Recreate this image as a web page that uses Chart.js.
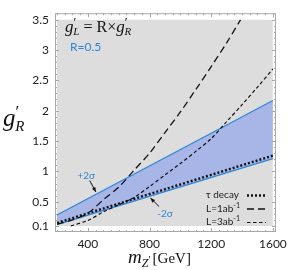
<!DOCTYPE html>
<html>
<head>
<meta charset="utf-8">
<script src="https://cdn.jsdelivr.net/npm/chart.js@4"></script>
<style>
  html, body { margin: 0; padding: 0; background: #fff; }
</style>
</head>
<body>
<canvas id="canvas" width="292" height="270"></canvas>
<script>
// values
const bandMass = [200, 1600];
const plus2Sigma = [0.28, 2.17];
const minus2Sigma = [0.12, 1.21];
const tauMass = [200, 1600];
const tauDecay = [0.15, 1.26];
const lumi1Mass = [200, 300, 400, 500, 600, 700, 800, 900, 1000, 1100, 1200, 1300, 1390];
const lumi1 = [0.13, 0.2, 0.31, 0.53, 0.74, 1.02, 1.3, 1.64, 1.98, 2.35, 2.73, 3.12, 3.5];
const lumi3Mass = [290, 400, 500, 600, 700, 800, 900, 1000, 1100, 1200, 1300, 1400, 1500, 1600];
const lumi3 = [0.1, 0.19, 0.33, 0.45, 0.57, 0.75, 0.94, 1.13, 1.33, 1.54, 1.82, 2.1, 2.39, 2.69];
const regionMass = [200, 1600];
const regionTop = [3.5, 3.5];
const xTicks = [400, 800, 1200, 1600];
const yTicks = [0.1, 0.5, 1, 1.5, 2, 2.5, 3, 3.5];

const BLUE = "#2f86d6";
const SERIF = '"Liberation Serif", "DejaVu Serif", serif';
const SANS = 'Lato, "Open Sans", sans-serif';

function pts(xs, ys) {
  return xs.map((x, i) => ({ x: x, y: ys[i] }));
}

// draws a run of text pieces left to right: [text, font, dy, extra gap]
function drawRun(ctx, x, y, pieces, color) {
  ctx.fillStyle = color;
  ctx.textAlign = "left";
  ctx.textBaseline = "alphabetic";
  pieces.forEach((p) => {
    ctx.font = p[1];
    ctx.fillText(p[0], x, y + (p[2] || 0));
    x += ctx.measureText(p[0]).width + (p[3] || 0);
  });
}

function arrow(ctx, x1, y1, x2, y2) {
  ctx.save();
  ctx.strokeStyle = "#111";
  ctx.fillStyle = "#111";
  ctx.lineWidth = 1;
  ctx.beginPath();
  ctx.moveTo(x1, y1);
  ctx.lineTo(x2, y2);
  ctx.stroke();
  const a = Math.atan2(y2 - y1, x2 - x1);
  ctx.beginPath();
  ctx.moveTo(x2, y2);
  ctx.lineTo(x2 - 5 * Math.cos(a - 0.4), y2 - 5 * Math.sin(a - 0.4));
  ctx.lineTo(x2 - 5 * Math.cos(a + 0.4), y2 - 5 * Math.sin(a + 0.4));
  ctx.closePath();
  ctx.fill();
  ctx.restore();
}

const frame = {
  id: "frame",
  afterDraw(chart) {
    const ctx = chart.ctx;
    const a = chart.chartArea;
    const xs = chart.scales.x;
    const ys = chart.scales.y;
    ctx.save();
    ctx.strokeStyle = "#a8a8a8";
    ctx.lineWidth = 1;
    ctx.strokeRect(a.left + 0.5, a.top + 0.5, a.right - a.left - 1, a.bottom - a.top - 1);
    ctx.beginPath();
    for (let m = 200; m <= 1600; m += 50) {
      const px = Math.round(xs.getPixelForValue(m)) + 0.5;
      const len = m % 400 === 0 ? 4 : 2;
      ctx.moveTo(px, a.bottom);
      ctx.lineTo(px, a.bottom - len);
      ctx.moveTo(px, a.top);
      ctx.lineTo(px, a.top + len);
    }
    for (let k = 1; k <= 35; k++) {
      const py = Math.round(ys.getPixelForValue(k / 10)) + 0.5;
      const len = k % 5 === 0 || k === 1 ? 4 : 2;
      ctx.moveTo(a.left, py);
      ctx.lineTo(a.left + len, py);
      ctx.moveTo(a.right, py);
      ctx.lineTo(a.right - len, py);
    }
    ctx.stroke();
    ctx.restore();

    // title formula
    drawRun(ctx, 65, 32, [
      ["g", "italic 17px " + SERIF],
      ["′", "13px " + SERIF, -6, -3],
      ["L", "italic 11px " + SERIF, 3],
      [" = R×", "16px " + SERIF],
      ["g", "italic 17px " + SERIF],
      ["′", "13px " + SERIF, -6, -3],
      ["R", "italic 11px " + SERIF, 3]
    ], "#111");
    drawRun(ctx, 70, 51, [["R=0.5", "12px " + SANS]], BLUE);

    // axis titles
    drawRun(ctx, 3, 126, [
      ["g", "italic 25px " + SERIF],
      ["′", "17px " + SERIF, -9, -4],
      ["R", "italic 15px " + SERIF, 5]
    ], "#111");
    drawRun(ctx, 128, 263, [
      ["m", "italic 19px " + SERIF],
      ["Z", "italic 12px " + SERIF, 4],
      ["′", "10px " + SERIF, 0, 2],
      ["[GeV]", "15px " + SERIF]
    ], "#111");

    // sigma labels
    ctx.font = "10px " + SANS;
    ctx.fillStyle = BLUE;
    ctx.textAlign = "center";
    ctx.textBaseline = "middle";
    ctx.fillText("+2σ", xs.getPixelForValue(390), ys.getPixelForValue(0.93));
    ctx.fillText("-2σ", xs.getPixelForValue(900), ys.getPixelForValue(0.3));
    arrow(ctx, xs.getPixelForValue(412), ys.getPixelForValue(0.85), xs.getPixelForValue(452), ys.getPixelForValue(0.66));
    arrow(ctx, xs.getPixelForValue(862), ys.getPixelForValue(0.42), xs.getPixelForValue(806), ys.getPixelForValue(0.56));

    // legend
    const rows = [
      ["τ decay", [2, 2], 2.4],
      ["L=1ab", [7, 4], 1.3],
      ["L=3ab", [3.5, 2.5], 1.2]
    ];
    rows.forEach((r, i) => {
      const y = 195 + i * 13.5;
      ctx.fillStyle = "#222";
      ctx.textAlign = "left";
      ctx.textBaseline = "middle";
      ctx.font = "10px " + SANS;
      ctx.fillText(r[0], 206, y);
      if (i > 0) {
        const w = ctx.measureText(r[0]).width;
        ctx.font = "7px " + SANS;
        ctx.fillText("-1", 206 + w, y - 3);
      }
      ctx.save();
      ctx.strokeStyle = "#111";
      ctx.lineWidth = r[2];
      ctx.setLineDash(r[1]);
      ctx.beginPath();
      ctx.moveTo(247, y + 0.5);
      ctx.lineTo(266, y + 0.5);
      ctx.stroke();
      ctx.restore();
    });
  }
};

new Chart(document.getElementById("canvas").getContext("2d"), {
  type: "scatter",
  data: {
    datasets: [
      {
        label: "+2σ",
        data: pts(bandMass, plus2Sigma),
        showLine: true,
        borderColor: BLUE,
        borderWidth: 1.3,
        pointRadius: 0,
        fill: 1,
        backgroundColor: "#a7b6e6",
        order: 5
      },
      {
        label: "-2σ",
        data: pts(bandMass, minus2Sigma),
        showLine: true,
        borderColor: BLUE,
        borderWidth: 1.3,
        pointRadius: 0,
        fill: false,
        order: 4
      },
      {
        label: "τ decay",
        data: pts(tauMass, tauDecay),
        showLine: true,
        borderColor: "#111",
        borderWidth: 2.4,
        borderDash: [2, 2],
        pointRadius: 0,
        fill: false,
        order: 1
      },
      {
        label: "L=1ab-1",
        data: pts(lumi1Mass, lumi1),
        showLine: true,
        borderColor: "#111",
        borderWidth: 1.3,
        borderDash: [7, 4],
        pointRadius: 0,
        tension: 0.3,
        fill: false,
        order: 2
      },
      {
        label: "L=3ab-1",
        data: pts(lumi3Mass, lumi3),
        showLine: true,
        borderColor: "#111",
        borderWidth: 1.2,
        borderDash: [3.5, 2.5],
        pointRadius: 0,
        tension: 0.3,
        fill: false,
        order: 3
      },
      {
        label: "region",
        data: pts(regionMass, regionTop),
        showLine: true,
        borderWidth: 0,
        borderColor: "rgba(0,0,0,0)",
        pointRadius: 0,
        fill: { value: 0.1 },
        backgroundColor: "#dddddd",
        order: 10
      }
    ]
  },
  options: {
    responsive: false,
    animation: false,
    devicePixelRatio: 1,
    layout: { padding: { left: 0, right: 14, top: 4, bottom: 0 } },
    plugins: {
      legend: { display: false },
      tooltip: { enabled: false }
    },
    scales: {
      x: {
        type: "linear",
        min: 187,
        max: 1620,
        grid: { display: false, drawTicks: false },
        border: { display: false },
        afterBuildTicks: (s) => { s.ticks = xTicks.map((v) => ({ value: v })); },
        afterFit: (s) => { s.height = 38; },
        ticks: {
          color: "#222",
          font: { family: "Lato", size: 12 },
          padding: 5,
          maxRotation: 0,
          callback: (v) => String(v)
        }
      },
      y: {
        type: "linear",
        min: 0,
        max: 3.61,
        grid: { display: false, drawTicks: false },
        border: { display: false },
        afterBuildTicks: (s) => { s.ticks = yTicks.map((v) => ({ value: v })); },
        afterFit: (s) => { s.width = 55; },
        ticks: {
          color: "#222",
          font: { family: "Lato", size: 12 },
          padding: 6,
          callback: (v) => String(v)
        }
      }
    }
  },
  plugins: [frame]
});
</script>
</body>
</html>
